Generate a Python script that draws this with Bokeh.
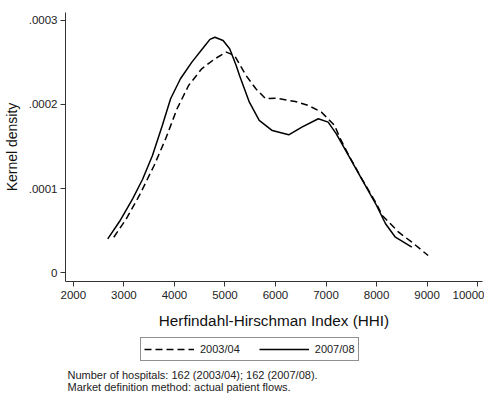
from bokeh.plotting import figure
from bokeh.models import Range1d, FixedTicker, Legend, LegendItem, Label
from bokeh.layouts import column
from bokeh.embed import file_html
from bokeh.resources import INLINE

# Data
hhi_2003 = [2800, 3047, 3306, 3598, 3826, 4052, 4280, 4540, 4801, 5027, 5190, 5417,
            5612, 5806, 6001, 6391, 6652, 6911, 7171, 7268, 7463, 7724, 7983, 8113,
            8437, 8698, 9022]
dens_2003 = [0.0000420, 0.0000639, 0.0000917, 0.0001274, 0.0001592, 0.0001949,
             0.0002226, 0.0002425, 0.0002544, 0.0002623, 0.0002583, 0.0002345,
             0.0002187, 0.0002068, 0.0002075, 0.0002036, 0.0001988, 0.0001908,
             0.0001750, 0.0001611, 0.0001380, 0.0001100, 0.0000835, 0.0000679,
             0.0000480, 0.0000361, 0.0000202]

hhi_2007 = [2680, 2916, 3175, 3370, 3565, 3760, 3924, 4119, 4345, 4606, 4703, 4801,
            4963, 5093, 5222, 5288, 5483, 5678, 5937, 6262, 6522, 6847, 7042, 7204,
            7463, 7724, 7983, 8178, 8373, 8698]
dens_2007 = [0.0000400, 0.0000610, 0.0000880, 0.0001110, 0.0001393, 0.0001750,
             0.0002068, 0.0002306, 0.0002504, 0.0002702, 0.0002775, 0.0002801,
             0.0002762, 0.0002663, 0.0002464, 0.0002345, 0.0002027, 0.0001810,
             0.0001690, 0.0001639, 0.0001730, 0.0001830, 0.0001790, 0.0001651,
             0.0001373, 0.0001095, 0.0000818, 0.0000580, 0.0000420, 0.0000301]

x_ticks = [2000, 3000, 4000, 5000, 6000, 7000, 8000, 9000, 10000]
y_ticks = [0, 0.0001, 0.0002, 0.0003]
y_tick_labels = ["0", ".0001", ".0002", ".0003"]
series_names = ["2003/04", "2007/08"]
notes = ["Number of hospitals: 162 (2003/04); 162 (2007/08).",
         "Market definition method: actual patient flows."]

FONT = "Liberation Sans"
TXT = "#222222"
DASH = "7 4"

# ---- main plot ----
p = figure(width=484, height=333, output_backend="svg", toolbar_location=None,
           x_range=Range1d(1844, 10097), y_range=Range1d(-0.0000107, 0.0003095),
           min_border_left=57, min_border_right=2, min_border_top=12, min_border_bottom=52)
p.outline_line_color = None
p.grid.grid_line_color = None
p.background_fill_color = "white"
p.border_fill_color = "white"

for ax in (p.xaxis[0], p.yaxis[0]):
    ax.axis_line_color = "#333333"
    ax.major_tick_line_color = "#333333"
    ax.major_tick_out = 5
    ax.major_tick_in = 0
    ax.minor_tick_line_color = None
    ax.major_label_text_font = FONT
    ax.major_label_text_font_size = "11.5px"
    ax.major_label_text_color = TXT
    ax.axis_label_text_font = FONT
    ax.axis_label_text_font_style = "normal"
    ax.axis_label_text_color = "#111111"

p.xaxis.ticker = FixedTicker(ticks=x_ticks)
p.xaxis.major_label_standoff = 4
p.xaxis.axis_label = "Herfindahl-Hirschman Index (HHI)"
p.xaxis.axis_label_text_font_size = "15.3px"
p.xaxis.axis_label_standoff = 10

p.yaxis.ticker = FixedTicker(ticks=y_ticks)
p.yaxis.major_label_overrides = {t: l for t, l in zip(y_ticks, y_tick_labels)}
p.yaxis.major_label_orientation = "horizontal"
p.yaxis.major_label_standoff = 3
p.yaxis.axis_label = "Kernel density"
p.yaxis.axis_label_text_font_size = "14px"
p.yaxis.axis_label_standoff = 6

p.line(hhi_2003, dens_2003, line_color="black", line_width=1.5, line_dash=DASH)
p.line(hhi_2007, dens_2007, line_color="black", line_width=1.5)

# ---- legend and notes strip (frame aligned with the main plot's frame) ----
p2 = figure(width=484, height=62, output_backend="svg", toolbar_location=None,
            x_range=Range1d(0, 1), y_range=Range1d(0, 1),
            x_axis_type=None, y_axis_type=None,
            min_border_left=0, min_border_right=0, min_border_top=0, min_border_bottom=0)
p2.outline_line_color = None
p2.grid.grid_line_color = None
p2.background_fill_color = "white"
p2.border_fill_color = "white"

# legend keys: same series, lying outside this strip's visible ranges
k1 = p2.line(hhi_2003, dens_2003, line_color="black", line_width=1.5, line_dash=DASH)
k2 = p2.line(hhi_2007, dens_2007, line_color="black", line_width=1.5)

legend = Legend(items=[LegendItem(label=series_names[0], renderers=[k1]),
                       LegendItem(label=series_names[1], renderers=[k2])],
                orientation="horizontal", location=(75, 34),
                border_line_color="#222222", border_line_width=1,
                background_fill_alpha=1.0, padding=3, spacing=19, margin=0,
                glyph_width=50, glyph_height=16, label_height=16, label_standoff=6,
                label_text_font=FONT, label_text_font_size="11px", label_text_color=TXT)
p2.add_layout(legend, "center")

for i, t in enumerate(notes):
    p2.add_layout(Label(x=2, y=21 - 12 * i, x_units="screen", y_units="screen", text=t,
                        text_font=FONT, text_font_size="11px", text_color=TXT,
                        text_baseline="middle"))

layout = column(p, p2, spacing=0)
open("out.html", "w").write(file_html(layout, INLINE))
